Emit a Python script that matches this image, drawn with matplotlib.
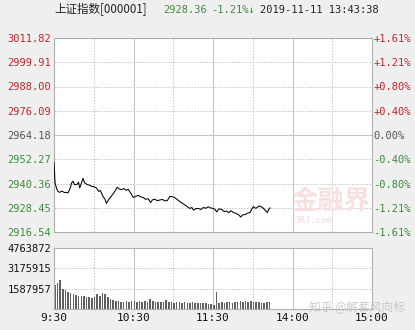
import matplotlib.pyplot as plt
import numpy as np

plt.rcParams['font.family'] = ['DejaVu Sans Mono', 'Noto Sans CJK SC']

# minutes since 9:30 (trading minutes, 11:30 -> 13:00 is skipped) and index level
minutes = [0, 0.8, 2, 3, 4.2, 6, 8, 9.3, 10.5, 11.5, 12.3, 13.3, 14.3, 15.5, 17.4, 18.5, 19.4, 20.5,
           21.9, 23, 24.9, 26.5, 28.2, 30, 32, 33.7, 35, 37, 38.5, 39.5, 41, 42, 44, 45.9, 47.6,
           49, 50.9, 52.5, 54.7, 56, 57.3, 58.5, 59.8, 61.5, 63.6, 65.5, 67.4, 69, 71, 72.9, 74.5,
           76.2, 78, 80, 82, 83.7, 85.5, 87.5, 90, 92, 93.8, 96, 98.9, 100.5, 102.6, 104, 105.2,
           107, 109, 111, 112.7, 114.5, 116.5, 118.5, 120.3, 121.5, 122.8, 124.5, 126.6, 128.5,
           130.4, 132, 133.5, 135.4, 137, 139.2, 140.9, 142.5, 144.2, 146, 148, 149, 150.5, 152,
           153, 154, 155.5, 157.5, 159.3, 161, 162, 163]
prices = [2950.8, 2940.7, 2937.8, 2936.5, 2936.0, 2936.6, 2935.9, 2936.0, 2935.7, 2937.0, 2938.2,
          2940.6, 2941.5, 2939.8, 2939.9, 2941.0, 2938.2, 2940.2, 2942.9, 2940.8, 2939.9, 2939.6,
          2939.0, 2938.8, 2938.2, 2936.5, 2936.9, 2934.0, 2932.6, 2930.6, 2932.2, 2933.1, 2934.8,
          2936.5, 2938.5, 2937.8, 2937.3, 2937.9, 2937.0, 2937.5, 2936.2, 2935.0, 2933.5, 2934.0,
          2934.5, 2933.8, 2933.5, 2932.6, 2932.9, 2931.1, 2932.4, 2932.6, 2931.9, 2932.3, 2932.5,
          2931.8, 2932.0, 2934.0, 2933.8, 2933.0, 2932.1, 2931.0, 2929.8, 2929.0, 2928.1, 2928.6,
          2927.3, 2928.0, 2928.1, 2927.6, 2928.6, 2928.2, 2928.9, 2928.3, 2928.1, 2927.6, 2926.4,
          2927.9, 2927.6, 2926.6, 2926.8, 2926.0, 2927.0, 2926.1, 2925.8, 2925.1, 2923.9, 2925.0,
          2925.1, 2925.8, 2926.1, 2927.5, 2929.0, 2928.2, 2928.4, 2929.0, 2929.3, 2928.5, 2927.3,
          2926.1, 2927.5, 2928.4]

# volume every 2 minutes
vol_minutes = list(range(0, 164, 2))
volumes = [1.85, 2.05, 2.25, 1.55, 1.45, 1.35, 1.28, 1.20, 1.10, 1.05, 1.02, 0.98, 0.90, 0.95,
           0.88, 0.92, 1.15, 1.05, 1.22, 1.18, 0.95, 0.78, 0.72, 0.66, 0.62, 0.58, 0.56, 0.62,
           0.58, 0.66, 0.62, 0.58, 0.60, 0.56, 0.62, 0.58, 0.80, 0.62, 0.58, 0.55, 0.52, 0.55,
           0.68, 0.55, 0.52, 0.50, 0.52, 0.55, 0.50, 0.52, 0.48, 0.50, 0.52, 0.48, 0.50, 0.46,
           0.48, 0.45, 0.42, 0.40, 0.35, 1.30, 0.45, 0.52, 0.50, 0.55, 0.52, 0.50, 0.58, 0.52,
           0.60, 0.55, 0.62, 0.58, 0.60, 0.55, 0.58, 0.52, 0.50, 0.48, 0.55, 0.58]
volumes = [v * 1e6 for v in volumes]

price_ticks = [2916.54, 2928.45, 2940.36, 2952.27, 2964.18, 2976.09, 2988.00, 2999.91, 3011.82]
pct_ticks = ['-1.61%', '-1.21%', '-0.80%', '-0.40%', '0.00%', '+0.40%', '+0.80%', '+1.21%', '+1.61%']
vol_ticks = [1587957, 3175915, 4763872]
time_ticks = [0, 60, 120, 180, 240]
time_labels = ['9:30', '10:30', '11:30', '14:00', '15:00']

red = '#b8282e'
green = '#3f8a3f'
gray = '#555555'
bg = '#efefef'

fig = plt.figure(figsize=(4.15, 3.3), dpi=100, facecolor=bg)
ax = fig.add_axes([54 / 415, 1 - 232 / 330, 318 / 415, 194 / 330])
axv = fig.add_axes([54 / 415, 1 - 309 / 330, 318 / 415, 61 / 330])


def grid(a, hlines, solid_h=None):
    for m in range(30, 240, 30):
        if m % 60 == 0:
            a.axvline(m, color='#c4c4c4', lw=0.8, zorder=0)
        else:
            a.axvline(m, color='#c4c4c4', lw=0.7, ls=(0, (1.5, 1.5)), zorder=0)
    for h in hlines:
        if h == solid_h:
            a.axhline(h, color='#c4c4c4', lw=0.8, zorder=0)
        else:
            a.axhline(h, color='#c4c4c4', lw=0.7, ls=(0, (1.5, 1.5)), zorder=0)
    for s in a.spines.values():
        s.set_color('#b0b0b0')
        s.set_linewidth(0.8)
    a.set_facecolor('white')
    a.tick_params(length=0, labelsize=7.5, pad=2)


# price panel
ax.set_xlim(0, 240)
ax.set_ylim(price_ticks[0], price_ticks[-1])
grid(ax, price_ticks[1:-1], solid_h=2964.18)
ax.plot(minutes, prices, color='black', lw=0.75, zorder=3)
ax.set_xticks([])
ax.set_yticks(price_ticks)
ax.set_yticklabels(['%.2f' % p for p in price_ticks])
for i, lab in enumerate(ax.get_yticklabels()):
    lab.set_color(green if i < 4 else (gray if i == 4 else red))
ax2 = ax.twinx()
ax2.set_ylim(ax.get_ylim())
ax2.set_yticks(price_ticks)
ax2.set_yticklabels(pct_ticks)
ax2.tick_params(length=0, labelsize=7.5, pad=1)
for s in ax2.spines.values():
    s.set_visible(False)
for i, lab in enumerate(ax2.get_yticklabels()):
    lab.set_color(green if i < 4 else (gray if i == 4 else red))

# watermark
ax.text(209, 2931.0, '金融界', fontsize=19, color='#f6e0e0', ha='center', va='center',
        family=['Noto Sans CJK SC'], fontweight='bold', zorder=1)
ax.text(196, 2922.3, 'JRJ.com', fontsize=6.5, color='#f6e0e0', ha='center', va='center',
        fontweight='bold', zorder=1)

# volume panel
axv.set_xlim(0, 240)
axv.set_ylim(0, vol_ticks[-1])
grid(axv, vol_ticks[:-1])
axv.bar(vol_minutes, volumes, width=1.2, color='#606060', align='edge')
axv.set_yticks(vol_ticks)
axv.set_yticklabels([str(v) for v in vol_ticks], color='#111111')
axv.set_xticks(time_ticks)
axv.set_xticklabels(time_labels, fontsize=8, color='#111111')
axv.tick_params(axis='x', pad=3)

# header
fig.text(54 / 415, 1 - 10 / 330, '上证指数[000001]', fontsize=8.3, va='center', ha='left',
         color='#222222', family=['Noto Sans CJK SC', 'DejaVu Sans Mono'])
fig.text(163 / 415, 1 - 10 / 330, '2928.36', fontsize=7.5, va='center', ha='left', color=green)
fig.text(211 / 415, 1 - 10 / 330, '-1.21%↓', fontsize=7.5, va='center', ha='left', color=green)
fig.text(260 / 415, 1 - 10 / 330, '2019-11-11 13:43:38', fontsize=7.5, va='center', ha='left',
         color='#222222')

fig.text(405 / 415, 1 - 307 / 330, '知乎 @解套风向标', fontsize=8.5, va='center', ha='right',
         color='#c0c0c0', family=['Noto Sans CJK SC'], alpha=0.85)

fig.savefig('out.png', dpi=100, facecolor=bg)
